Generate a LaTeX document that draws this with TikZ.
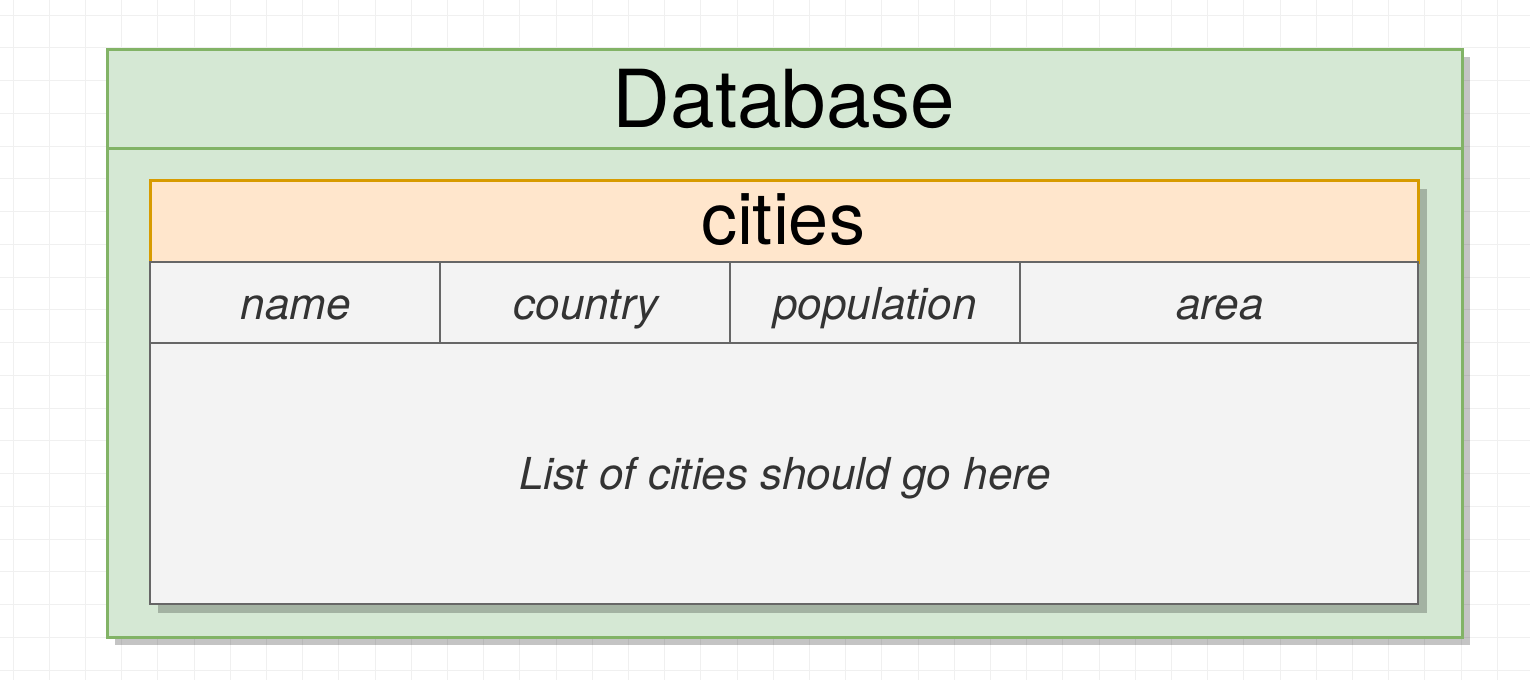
\documentclass[tikz,border=0pt]{standalone}
\usepackage{fontspec}
\setmainfont{TeX Gyre Heros}
\definecolor{Grid}{HTML}{F0F0F0}
\definecolor{DbFill}{HTML}{D5E8D4}
\definecolor{DbLine}{HTML}{82B366}
\definecolor{HeadFill}{HTML}{FFE6CC}
\definecolor{HeadLine}{HTML}{D79B00}
\definecolor{CellFill}{HTML}{F3F3F3}
\definecolor{CellLine}{HTML}{666666}
\definecolor{Ink}{HTML}{333333}

\begin{document}
\begin{tikzpicture}[x=1pt,y=-1pt,
  canvas/.style={draw=Grid,line width=1pt},
  shade/.style={fill=black,opacity=0.23},
  dbbox/.style={draw=DbLine,fill=DbFill,line width=3pt},
  headbox/.style={draw=HeadLine,fill=HeadFill,line width=3pt},
  cellbox/.style={draw=CellLine,fill=CellFill,line width=2.6pt},
  title/.style={anchor=base,inner sep=0pt,font=\fontsize{80}{82}\selectfont},
  field/.style={anchor=base,inner sep=0pt,text=Ink,font=\itshape\fontsize{44}{46}\selectfont}
]
\useasboundingbox (0,0) rectangle (1530,680);
\fill[white] (0,0) rectangle (1530,680);
% background grid
\foreach \i in {0,...,41}
  \draw[canvas] ({13+36.2*\i},0) -- ({13+36.2*\i},680);
\foreach \j in {0,...,20}
  \draw[canvas] (0,{15+32.75*\j}) -- (1530,{15+32.75*\j});

% database container
\fill[shade] (115,57) rectangle (1470,645);
\draw[dbbox] (107,49) rectangle (1462,637);
\draw[draw=DbLine,line width=3pt] (107,148) -- (1462,148);
\node[title] (dbname) at (784,127) {Database};

% cities table
\fill[shade] (158,189) rectangle (1427,613);
\draw[headbox] (150,180) rectangle (1418,262);
\node[title,font=\fontsize{72}{74}\selectfont] (tblname) at (783,244) {cities};
\draw[cellbox] (150,262) rectangle (1418,343);
\draw[cellbox] (150,343) rectangle (1418,604);
\foreach \x in {440,730,1020}
  \draw[draw=CellLine,line width=2.6pt] (\x,262) -- (\x,343);
\node[field] (fname) at (296,319) {name};
\node[field] (fcountry) at (586,319) {country};
\node[field] (fpopulation) at (875,319) {population};
\node[field] (farea) at (1220,319) {area};
\node[field] (rows) at (785,489) {List of cities should go here};
\end{tikzpicture}
\end{document}
